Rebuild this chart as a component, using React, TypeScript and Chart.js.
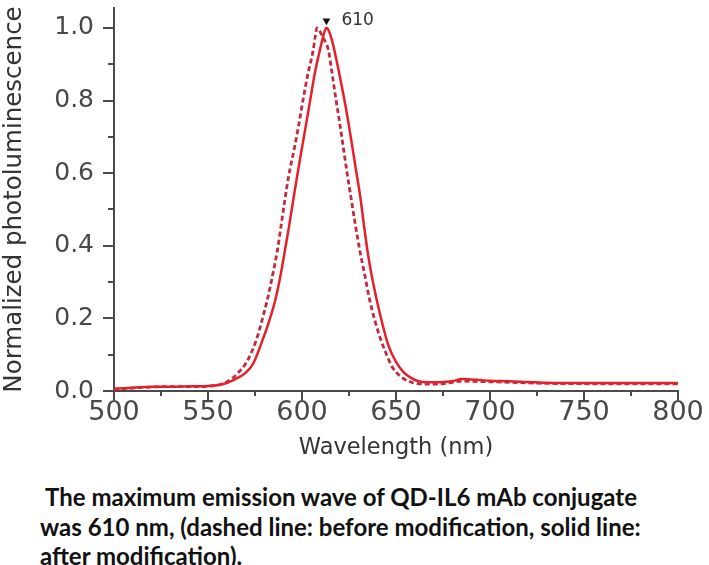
import React, { useEffect, useRef } from 'react';
import { Chart, registerables } from 'chart.js';

Chart.register(...registerables);

// ---- data ----
const solidWavelength = [500, 510, 520, 530, 540, 550, 555, 560, 565, 570, 574, 579, 583, 586, 589, 591, 593, 595, 598, 601, 604, 607, 610, 612, 613, 614, 616, 618, 620, 623, 625, 627, 629, 631, 633, 635, 637, 640, 643, 646, 650, 654, 658, 662, 666, 670, 675, 680, 685, 690, 695, 700, 710, 720, 730, 750, 775, 800];
const solidIntensity = [0.006, 0.009, 0.012, 0.012, 0.013, 0.014, 0.016, 0.022, 0.034, 0.05, 0.075, 0.14, 0.2, 0.255, 0.33, 0.39, 0.45, 0.515, 0.61, 0.7, 0.79, 0.88, 0.95, 0.99, 1.0, 0.995, 0.965, 0.92, 0.87, 0.79, 0.73, 0.665, 0.6, 0.535, 0.455, 0.38, 0.32, 0.245, 0.18, 0.125, 0.08, 0.052, 0.036, 0.027, 0.024, 0.024, 0.025, 0.027, 0.033, 0.032, 0.03, 0.028, 0.027, 0.025, 0.023, 0.022, 0.022, 0.022];

const dashedWavelength = [500, 510, 520, 530, 540, 550, 555, 560, 563, 566, 570, 573, 576, 579, 581.5, 584, 587, 589, 591, 593, 596, 598, 600.5, 603, 606, 607, 608, 609, 611, 614, 616, 618, 620, 622, 624, 626, 628, 631, 633, 636, 639, 642, 645, 648, 652, 657, 662, 668, 675, 685, 695, 710, 730, 760, 800];
const dashedIntensity = [0.005, 0.008, 0.011, 0.012, 0.012, 0.013, 0.016, 0.025, 0.035, 0.05, 0.075, 0.105, 0.145, 0.2, 0.25, 0.31, 0.39, 0.46, 0.53, 0.595, 0.67, 0.725, 0.8, 0.87, 0.94, 0.975, 1.0, 0.995, 0.975, 0.94, 0.875, 0.805, 0.74, 0.67, 0.6, 0.535, 0.47, 0.38, 0.33, 0.251, 0.19, 0.14, 0.1, 0.066, 0.042, 0.026, 0.02, 0.019, 0.02, 0.027, 0.026, 0.024, 0.021, 0.02, 0.02];

const peakWavelength = [613];
const peakMarkerLevel = [1.02];
const peakLabel = '610';

const xMajorTicks = [500, 550, 600, 650, 700, 750, 800];
const xMinorTicks = [525, 575, 625, 675, 725, 775];
const yMajorTicks = [0, 0.2, 0.4, 0.6, 0.8, 1.0];
const yMinorTicks = [0.1, 0.3, 0.5, 0.7, 0.9];

const xTitle = 'Wavelength (nm)';
const yTitle = 'Normalized photoluminescence';
const captionLines = [
  ' The maximum emission wave of QD-IL6 mAb conjugate',
  'was 610 nm, (dashed line: before modification, solid line:',
  'after modification).',
];

const FONT = '"DejaVu Sans", sans-serif';
const AXIS_COLOR = '#4a4a4a';

const tickMarksPlugin = {
  id: 'tickMarks',
  afterDraw(chart: any) {
    const { ctx, chartArea } = chart;
    const x = chart.scales.x;
    const y = chart.scales.y;
    ctx.save();
    ctx.strokeStyle = AXIS_COLOR;
    ctx.lineWidth = 2;
    ctx.beginPath();
    xMajorTicks.forEach((v) => {
      const px = Math.round(x.getPixelForValue(v));
      ctx.moveTo(px, chartArea.bottom);
      ctx.lineTo(px, chartArea.bottom + 9);
    });
    xMinorTicks.forEach((v) => {
      const px = Math.round(x.getPixelForValue(v));
      ctx.moveTo(px, chartArea.bottom);
      ctx.lineTo(px, chartArea.bottom + 5);
    });
    yMajorTicks.forEach((v) => {
      const py = Math.round(y.getPixelForValue(v));
      ctx.moveTo(chartArea.left, py);
      ctx.lineTo(chartArea.left - 11, py);
    });
    yMinorTicks.forEach((v) => {
      const py = Math.round(y.getPixelForValue(v));
      ctx.moveTo(chartArea.left, py);
      ctx.lineTo(chartArea.left - 6, py);
    });
    ctx.stroke();

    const meta = chart.getDatasetMeta(2);
    const pt = meta && meta.data && meta.data[0];
    if (pt) {
      ctx.fillStyle = '#333';
      ctx.font = `17px ${FONT}`;
      ctx.textAlign = 'left';
      ctx.textBaseline = 'middle';
      ctx.fillText(peakLabel, pt.x + 15, pt.y);
    }
    ctx.restore();
  },
};

export default function App() {
  const canvasRef = useRef<HTMLCanvasElement | null>(null);

  useEffect(() => {
    const canvas = canvasRef.current;
    if (!canvas) return;
    const chart = new Chart(canvas, {
      type: 'line',
      data: {
        datasets: [
          {
            label: 'after modification',
            data: solidWavelength.map((w, i) => ({ x: w, y: solidIntensity[i] })),
            borderColor: '#e6202a',
            borderWidth: 2.5,
            pointRadius: 0,
            fill: false,
            cubicInterpolationMode: 'monotone',
          },
          {
            label: 'before modification',
            data: dashedWavelength.map((w, i) => ({ x: w, y: dashedIntensity[i] })),
            borderColor: '#c22a3e',
            borderWidth: 2.8,
            borderDash: [5, 3],
            pointRadius: 0,
            fill: false,
            cubicInterpolationMode: 'monotone',
          },
          {
            type: 'scatter',
            label: 'peak',
            data: peakWavelength.map((w, i) => ({ x: w, y: peakMarkerLevel[i] })),
            pointStyle: 'triangle',
            rotation: 180,
            pointRadius: 4.5,
            backgroundColor: '#111',
            borderColor: '#111',
            borderWidth: 0,
            showLine: false,
            clip: false,
          } as any,
        ],
      },
      options: {
        animation: false,
        responsive: false,
        devicePixelRatio: 1,
        layout: { padding: { left: 0, top: 8, right: 31, bottom: 0 } },
        plugins: {
          legend: { display: false },
          tooltip: { enabled: false },
        },
        scales: {
          x: {
            type: 'linear',
            min: 500,
            max: 800,
            afterFit: (scale: any) => {
              scale.height = 79;
              scale.paddingLeft = 0;
              scale.paddingRight = 0;
            },
            grid: { display: false, drawTicks: false },
            border: { display: true, color: AXIS_COLOR, width: 2 },
            ticks: {
              stepSize: 50,
              autoSkip: false,
              maxRotation: 0,
              padding: 6,
              color: '#484848',
              font: { family: FONT, size: 27 },
            },
            title: {
              display: true,
              text: xTitle,
              color: '#333',
              font: { family: FONT, size: 22.5 },
              padding: { top: 0, bottom: 8 },
            },
          },
          y: {
            type: 'linear',
            min: 0,
            max: 1.055,
            afterFit: (scale: any) => {
              scale.width = 114;
              scale.paddingTop = 0;
              scale.paddingBottom = 0;
            },
            grid: { display: false, drawTicks: false },
            border: { display: true, color: AXIS_COLOR, width: 2 },
            ticks: {
              stepSize: 0.2,
              includeBounds: false,
              padding: 20,
              color: '#484848',
              font: { family: FONT, size: 25 },
              callback: (v: any) => Number(v).toFixed(1),
            },
            title: {
              display: true,
              text: yTitle,
              color: '#333',
              font: { family: FONT, size: 24.5 },
              padding: { top: 0, bottom: 0 },
            },
          },
        },
      } as any,
      plugins: [tickMarksPlugin],
    });
    return () => chart.destroy();
  }, []);

  return (
    <div style={{ position: 'absolute', left: 0, top: 0, width: 709, height: 565, background: '#fff', overflow: 'hidden' }}>
      <canvas ref={canvasRef} width={709} height={470} style={{ display: 'block', width: 709, height: 470 }} />
      <div
        style={{
          position: 'absolute',
          left: 40,
          top: 482,
          fontFamily: 'Lato, "Open Sans", sans-serif',
          fontWeight: 700,
          fontSize: 24,
          lineHeight: '29.5px',
          color: '#111',
          whiteSpace: 'pre',
        }}
      >
        {captionLines.map((l, i) => (
          <div key={i}>{l}</div>
        ))}
      </div>
    </div>
  );
}
